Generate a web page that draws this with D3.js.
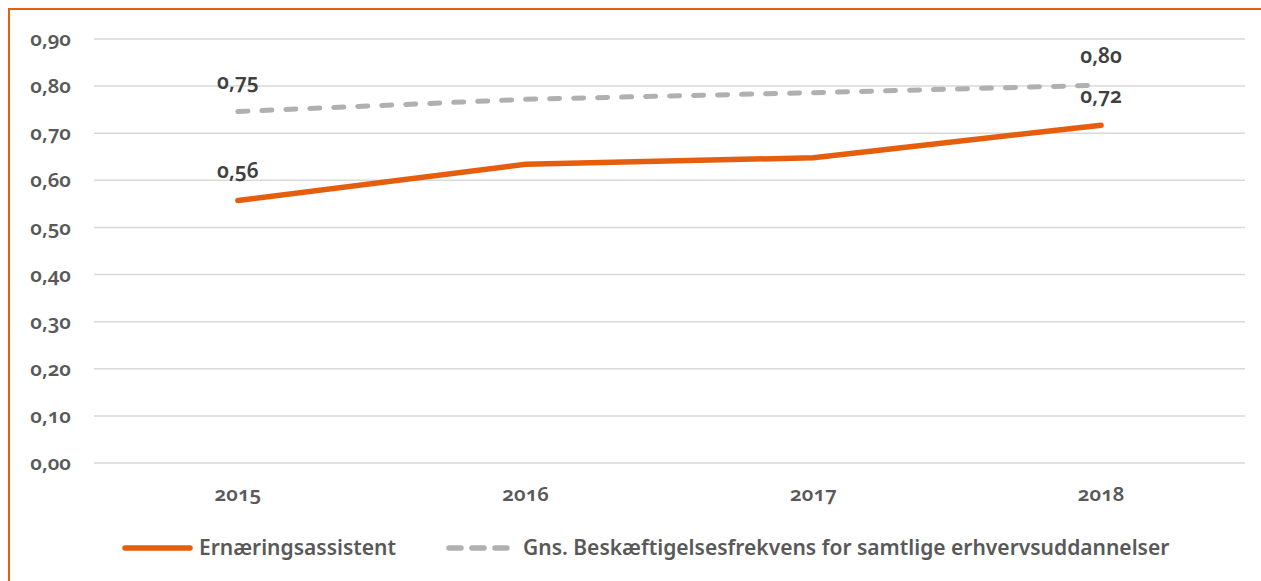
<!DOCTYPE html>
<html>
<head>
<meta charset="utf-8">
<script src="https://cdn.jsdelivr.net/npm/d3@7"></script>
<style>
  html, body { margin: 0; padding: 0; background: #fff; }
  svg { display: block; }
  text { font-family: "Noto Sans", "Open Sans", sans-serif; font-variant-numeric: oldstyle-nums; font-feature-settings: "onum" 1; }
</style>
</head>
<body>
<svg id="chart" width="1261" height="581"></svg>
<script>
const years = ["2015", "2016", "2017", "2018"];
const seriesNames = ["Ernæringsassistent", "Gns. Beskæftigelsesfrekvens for samtlige erhvervsuddannelser"];
const ernaering = [0.557, 0.634, 0.648, 0.717];
const gennemsnit = [0.746, 0.772, 0.786, 0.802];
const labelIdx = [0, 3];
const yTicks = [0, 0.1, 0.2, 0.3, 0.4, 0.5, 0.6, 0.7, 0.8, 0.9];

const orange = "#E55E0D";
const gray = "#B0B0B0";
const textColor = "#595959";
const labelColor = "#404040";

const svg = d3.select("#chart");

svg.append("rect")
  .attr("x", 9).attr("y", 9).attr("width", 1300).attr("height", 620)
  .attr("fill", "none").attr("stroke", orange).attr("stroke-width", 2);

const x = d3.scaleBand().domain(years).range([94, 1245]).padding(0);
const y = d3.scaleLinear().domain([0, 0.9]).range([463, 39]);
const fmt = v => d3.format(".2f")(v).replace(".", ",");

// gridlines
svg.append("g").selectAll("line").data(yTicks).join("line")
  .attr("x1", 94).attr("x2", 1245)
  .attr("y1", d => y(d)).attr("y2", d => y(d))
  .attr("stroke", "#D9D9D9").attr("stroke-width", 1.5);

// y axis labels
const yAxis = d3.axisLeft(y).tickValues(yTicks).tickFormat(fmt).tickSize(0).tickPadding(0);
const gy = svg.append("g").attr("transform", "translate(71,0)").call(yAxis);
gy.attr("font-family", null).attr("font-size", null);
gy.select(".domain").remove();
gy.selectAll("text")
  .attr("font-size", 20.5).attr("font-weight", 600)
  .attr("fill", textColor);

// x axis labels
const xAxis = d3.axisBottom(x).tickSize(0).tickPadding(0);
const gx = svg.append("g").attr("transform", "translate(0,494)").call(xAxis);
gx.attr("font-family", null).attr("font-size", null);
gx.select(".domain").remove();
gx.selectAll("text")
  .attr("y", 0).attr("dy", "0.35em")
  .attr("font-size", 20.5).attr("font-weight", 600)
  .attr("fill", textColor);

const cx = d => x(d) + x.bandwidth() / 2;
const line = d3.line().x((d, i) => cx(years[i])).y(d => y(d));

svg.append("path").datum(gennemsnit)
  .attr("d", line).attr("fill", "none")
  .attr("stroke", gray).attr("stroke-width", 5)
  .attr("stroke-dasharray", "10 14").attr("stroke-linecap", "round");

svg.append("path").datum(ernaering)
  .attr("d", line).attr("fill", "none")
  .attr("stroke", orange).attr("stroke-width", 5.5)
  .attr("stroke-linecap", "round").attr("stroke-linejoin", "round");

// data labels
[gennemsnit, ernaering].forEach(series => {
  svg.append("g").selectAll("text").data(labelIdx).join("text")
    .attr("x", i => cx(years[i]))
    .attr("y", i => y(series[i]) - 30)
    .attr("dy", "0.35em")
    .attr("text-anchor", "middle")
    .attr("font-size", 21).attr("font-weight", 600)
    .attr("fill", labelColor)
    .text(i => fmt(series[i]));
});

// legend
const lg = svg.append("g");
lg.append("line").attr("x1", 125).attr("x2", 190).attr("y1", 548).attr("y2", 548)
  .attr("stroke", orange).attr("stroke-width", 5.5).attr("stroke-linecap", "round");
lg.append("text").attr("x", 199).attr("y", 548).attr("dy", "0.35em")
  .attr("font-size", 21).attr("font-weight", 600).attr("fill", textColor)
  .text(seriesNames[0]);
lg.append("line").attr("x1", 449).attr("x2", 509).attr("y1", 548).attr("y2", 548)
  .attr("stroke", gray).attr("stroke-width", 5.5).attr("stroke-linecap", "round")
  .attr("stroke-dasharray", "12 11");
lg.append("text").attr("x", 523).attr("y", 548).attr("dy", "0.35em")
  .attr("font-size", 21).attr("font-weight", 600).attr("fill", textColor)
  .text(seriesNames[1]);
</script>
</body>
</html>
